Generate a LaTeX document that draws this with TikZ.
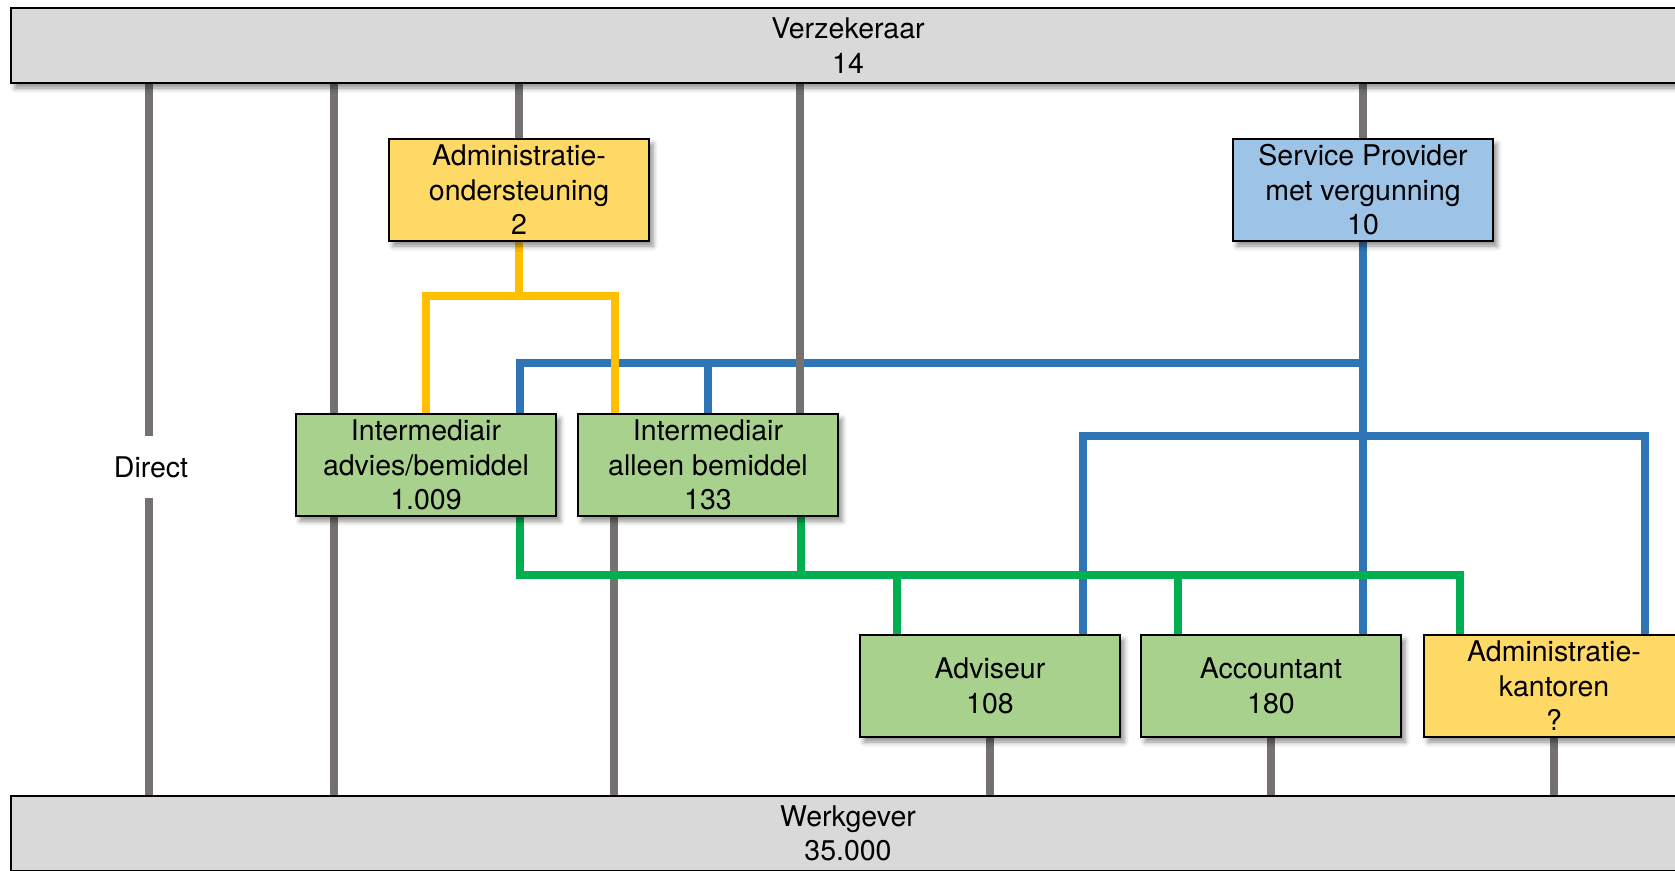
\documentclass[tikz,border=0pt]{standalone}
\usepackage{fontspec}
\setmainfont{TeX Gyre Heros}
\usetikzlibrary{shadows.blur}
\definecolor{barfill}{HTML}{D9D9D9}
\definecolor{glc}{HTML}{767171}
\definecolor{yfill}{HTML}{FFD966}
\definecolor{ylc}{HTML}{FFC000}
\definecolor{bfill}{HTML}{9DC3E6}
\definecolor{blc}{HTML}{2E75B6}
\definecolor{gfill}{HTML}{A9D18E}
\definecolor{glnc}{HTML}{00B050}
\pgfdeclarelayer{bg}
\pgfsetlayers{bg,main}
\tikzset{
  txt/.style={font=\fontsize{28.5}{34.5}\selectfont, align=center},
  shad/.style={blur shadow={shadow xshift=4pt, shadow yshift=-5pt, shadow blur radius=5pt, shadow opacity=45}},
  bar/.style={txt, shad, draw=black, line width=1.8pt, fill=barfill, minimum width=1674pt, minimum height=75pt, inner sep=0pt},
  box/.style={txt, shad, draw=black, line width=1.5pt, minimum width=260pt, minimum height=102pt, inner sep=0pt},
  ybox/.style={box, fill=yfill},
  bbox/.style={box, fill=bfill},
  gbox/.style={box, fill=gfill},
  gl/.style={draw=glc, line width=8pt},
  yl/.style={draw=ylc, line width=7.5pt},
  bl/.style={draw=blc, line width=7.5pt},
  gnl/.style={draw=glnc, line width=7.5pt},
}
\begin{document}
\begin{tikzpicture}[x=1pt,y=-1pt]
\useasboundingbox (0,0) rectangle (1675,870);
\node[bar] (verz) at (848,45.5) {Verzekeraar\\14};
\node[bar] (werk) at (848,833.5) {Werkgever\\35.000};
\node[ybox] (admin) at (519,190) {Administratie-\\ondersteuning\\2};
\node[bbox] (sp) at (1363,190) {Service Provider\\met vergunning\\10};
\node[gbox] (int1) at (426,465) {Intermediair\\advies/bemiddel\\1.009};
\node[gbox] (int2) at (708,465) {Intermediair\\alleen bemiddel\\133};
\node[gbox] (adv) at (990,686) {Adviseur\\108};
\node[gbox] (acc) at (1271,686) {Accountant\\180};
\node[ybox] (admk) at (1554,686) {Administratie-\\kantoren\\?};
\node[txt, minimum height=61pt, inner sep=0pt] (direct) at (151,467) {Direct};
\coordinate (yj) at (519,296);
\coordinate (bj1) at (1363,363);
\coordinate (bj2) at (1363,436);
\coordinate (gL) at (520,575);
\coordinate (gR) at (1460,575);
\begin{pgfonlayer}{bg}
% blue
\draw[bl] (sp.south) -- (sp.south |- acc.north);
\draw[bl] (520,0 |- int1.north) |- (bj1);
\draw[bl] (int2.north) |- (bj1);
\draw[bl] (1083,0 |- adv.north) |- (bj2);
\draw[bl] (1645,0 |- admk.north) |- (bj2);
% grey connectors
\draw[gl] (direct.north -| 148.5,0) -- (148.5,0 |- verz.south);
\draw[gl] (direct.south -| 148.5,0) -- (148.5,0 |- werk.north);
\draw[gl] (334,0 |- verz.south) -- (334,0 |- int1.north);
\draw[gl] (334,0 |- int1.south) -- (334,0 |- werk.north);
\draw[gl] (admin.north) -- (admin.north |- verz.south);
\draw[gl] (800,0 |- verz.south) -- (800,0 |- int2.north);
\draw[gl] (sp.north) -- (sp.north |- verz.south);
\draw[gl] (614,0 |- int2.south) -- (614,0 |- werk.north);
\draw[gl] (adv.south) -- (adv.south |- werk.north);
\draw[gl] (acc.south) -- (acc.south |- werk.north);
\draw[gl] (admk.south) -- (admk.south |- werk.north);
% yellow
\draw[yl] (admin.south) -- (yj);
\draw[yl] (int1.north) |- (yj);
\draw[yl] (615,0 |- int2.north) |- (yj);
% green
\draw[gnl] (520,0 |- int1.south) -- (gL) -- (gR) -- (1460,0 |- admk.north);
\draw[gnl] (801,0 |- int2.south) -- (801,575);
\draw[gnl] (897,575) -- (897,0 |- adv.north);
\draw[gnl] (1178,575) -- (1178,0 |- acc.north);
\end{pgfonlayer}
\end{tikzpicture}
\end{document}
